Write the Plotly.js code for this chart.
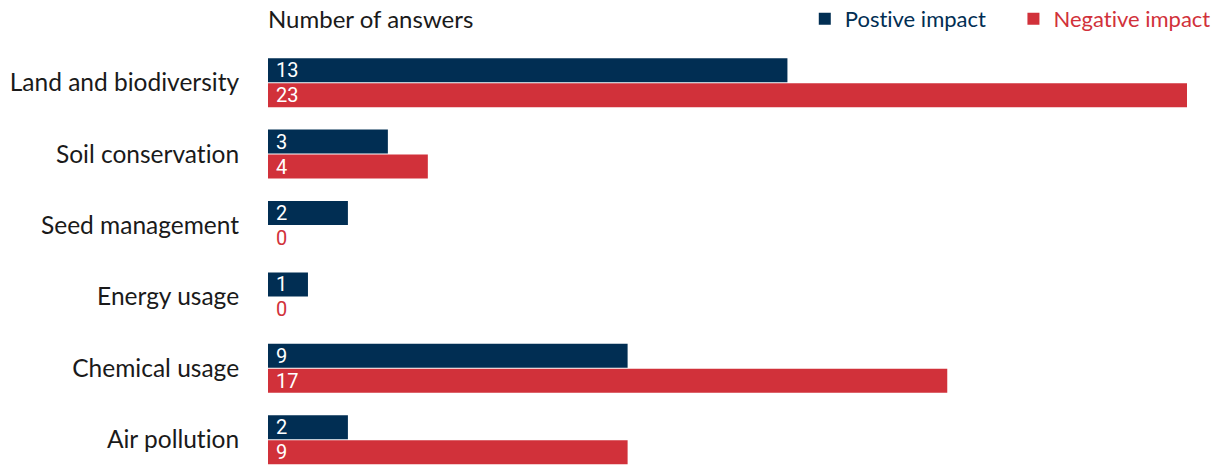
<!DOCTYPE html>
<html>
<head>
<meta charset="utf-8">
<script src="https://cdn.plot.ly/plotly-3.0.1.min.js"></script>
<style>html,body{margin:0;padding:0;background:#fff;}#chart{width:1217px;height:465px;}svg text{font-variant-ligatures:none;font-feature-settings:"liga" 0;}</style>
</head>
<body>
<div id="chart"></div>
<script>
const categories = ["Land and biodiversity", "Soil conservation", "Seed management", "Energy usage", "Chemical usage", "Air pollution"];
const positiveValues = [13, 3, 2, 1, 9, 2];
const negativeValues = [23, 4, 0, 0, 17, 9];
const seriesNames = ["Postive impact", "Negative impact"];
const axisTitle = "Number of answers";

const BLUE = "#012e53";
const RED = "#d1313a";
const FONT = "Lato, 'Noto Sans', sans-serif";
const NUMFONT = "Roboto, 'Liberation Sans', Arial, sans-serif";

function makeTrace(values, name, color, trail) {
  return {
    type: "bar",
    orientation: "h",
    y: categories,
    x: values,
    name: '<span style="color:' + color + '">' + name + '</span>' + trail,
    marker: {color: color},
    text: values.map(v => "\u00a0" + String(v)),
    textposition: values.map(v => v > 0 ? "inside" : "outside"),
    insidetextanchor: "start",
    textangle: 0,
    constraintext: "none",
    cliponaxis: false,
    insidetextfont: {color: "#ffffff", size: 20, family: NUMFONT},
    outsidetextfont: {color: RED, size: 20, family: NUMFONT},
    hoverinfo: "skip"
  };
}

const data = [
  makeTrace(positiveValues, seriesNames[0], BLUE, "\u00a0\u00a0\u00a0\u00a0"),
  makeTrace(negativeValues, seriesNames[1], RED, "")
];

const layout = {
  width: 1217,
  height: 465,
  margin: {l: 268, r: 30, t: 47, b: 0, pad: 0},
  paper_bgcolor: "#ffffff",
  plot_bgcolor: "#ffffff",
  font: {family: FONT, color: "#1a1a1a"},
  barmode: "group",
  bargap: 0.3,
  bargroupgap: 0.04,
  showlegend: true,
  title: {
    text: axisTitle,
    font: {family: FONT, size: 24, color: "#1a1a1a"},
    xref: "container", x: 268 / 1217, xanchor: "left",
    yref: "container", y: 1 - 20 / 465, yanchor: "middle"
  },
  legend: {
    orientation: "h",
    xref: "container", x: 0.999, xanchor: "right",
    yref: "container", y: 1 - 19 / 465, yanchor: "middle",
    font: {family: FONT, size: 22},
    traceorder: "normal",
    itemwidth: 30,
    bgcolor: "rgba(0,0,0,0)"
  },
  xaxis: {
    range: [0, 23],
    showgrid: false, zeroline: false, showline: false,
    showticklabels: false, ticks: ""
  },
  yaxis: {
    type: "category",
    autorange: false,
    range: [5.354, -0.5],
    showgrid: false, zeroline: false, showline: false,
    ticks: "outside", ticklen: 23, tickcolor: "rgba(0,0,0,0)",
    tickfont: {family: FONT, size: 24.5, color: "#1a1a1a"}
  }
};

Plotly.newPlot("chart", data, layout, {displayModeBar: false, staticPlot: true});
</script>
</body>
</html>
